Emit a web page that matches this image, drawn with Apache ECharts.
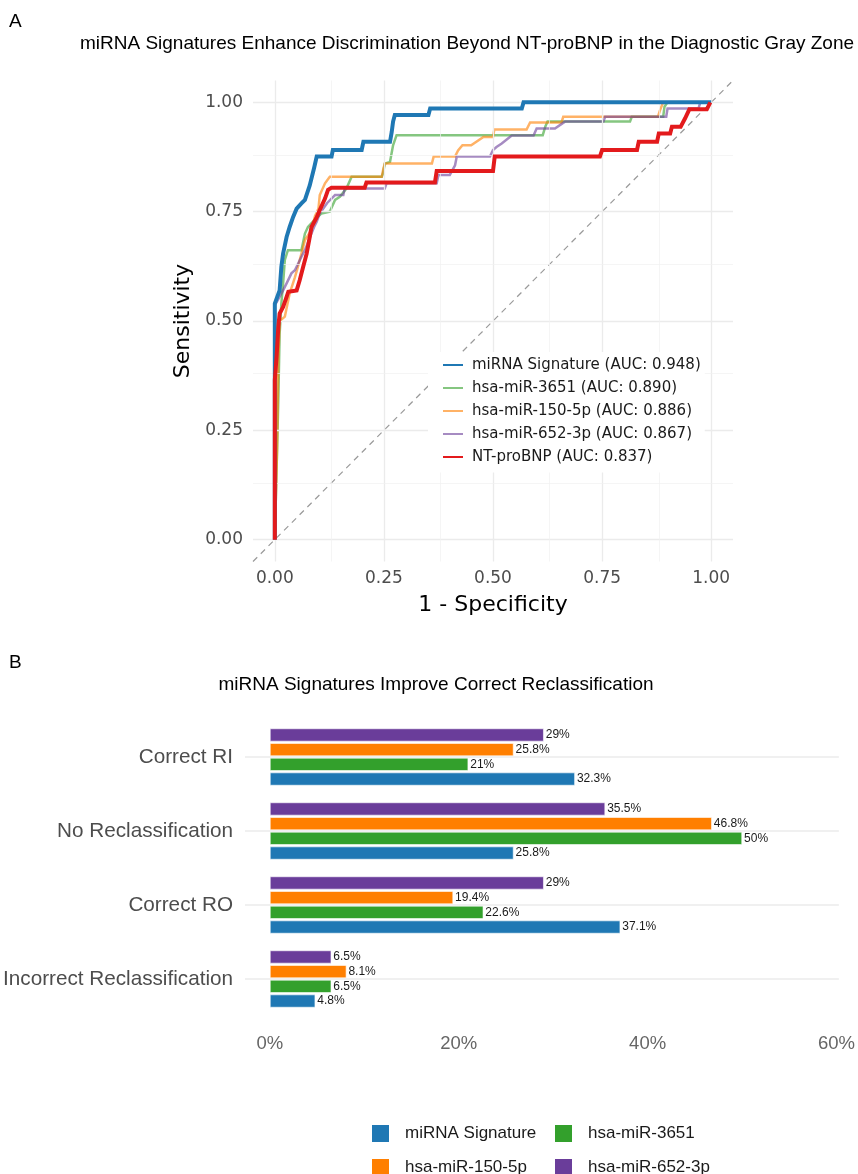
<!DOCTYPE html>
<html>
<head>
<meta charset="utf-8">
<script src="https://cdn.jsdelivr.net/npm/echarts@6/dist/echarts.min.js"></script>
<style>
html,body{margin:0;padding:0;background:#fff;}
#chart{width:858px;height:1174px;}
</style>
</head>
<body>
<div id="chart"></div>
<script>
// ---------- Panel A: ROC curves ([1 - specificity, sensitivity]) ----------
const rocNames = [
  'miRNA Signature (AUC: 0.948)',
  'hsa-miR-3651 (AUC: 0.890)',
  'hsa-miR-150-5p (AUC: 0.886)',
  'hsa-miR-652-3p (AUC: 0.867)',
  'NT-proBNP (AUC: 0.837)'
];
const rocSignature = [[0,0],[0,0.54],[0.004,0.54],[0.011,0.57],[0.015,0.624],[0.019,0.654],[0.027,0.692],[0.034,0.715],[0.042,0.738],[0.05,0.757],[0.061,0.769],[0.069,0.777],[0.08,0.81],[0.09,0.85],[0.096,0.876],[0.13,0.876],[0.133,0.891],[0.199,0.891],[0.203,0.91],[0.264,0.91],[0.268,0.933],[0.271,0.956],[0.275,0.971],[0.352,0.971],[0.356,0.986],[0.566,0.986],[0.57,1.0],[1,1]];
const roc3651 = [[0,0],[0.008,0.32],[0.011,0.47],[0.015,0.54],[0.019,0.586],[0.023,0.64],[0.03,0.662],[0.061,0.662],[0.069,0.70],[0.076,0.715],[0.09,0.73],[0.107,0.746],[0.126,0.75],[0.138,0.777],[0.149,0.784],[0.164,0.803],[0.176,0.83],[0.245,0.83],[0.248,0.838],[0.252,0.86],[0.264,0.864],[0.271,0.902],[0.279,0.925],[0.614,0.925],[0.62,0.945],[0.625,0.956],[0.814,0.956],[0.818,0.967],[0.89,0.967],[0.893,0.99],[0.9,1],[1,1]];
const roc150 = [[0,0],[0.005,0.2],[0.008,0.41],[0.011,0.5],[0.023,0.51],[0.034,0.563],[0.046,0.60],[0.053,0.624],[0.061,0.654],[0.069,0.685],[0.084,0.708],[0.092,0.74],[0.1,0.757],[0.103,0.788],[0.115,0.815],[0.126,0.83],[0.245,0.83],[0.249,0.849],[0.252,0.86],[0.36,0.86],[0.364,0.876],[0.413,0.876],[0.42,0.89],[0.43,0.902],[0.45,0.902],[0.478,0.921],[0.5,0.921],[0.503,0.938],[0.577,0.938],[0.585,0.954],[0.657,0.954],[0.661,0.967],[0.878,0.967],[0.882,0.98],[0.89,1],[1,1]];
const roc652 = [[0,0],[0,0.536],[0.008,0.55],[0.019,0.57],[0.027,0.586],[0.038,0.609],[0.046,0.616],[0.061,0.647],[0.069,0.662],[0.08,0.69],[0.09,0.715],[0.096,0.727],[0.103,0.746],[0.12,0.77],[0.138,0.788],[0.157,0.788],[0.16,0.803],[0.252,0.803],[0.256,0.815],[0.371,0.815],[0.375,0.834],[0.401,0.834],[0.413,0.856],[0.417,0.876],[0.493,0.876],[0.5,0.891],[0.508,0.898],[0.52,0.906],[0.543,0.924],[0.593,0.924],[0.6,0.94],[0.642,0.94],[0.665,0.956],[0.753,0.956],[0.757,0.967],[0.897,0.967],[0.9,0.986],[0.971,0.986],[0.975,1],[1,1]];
const rocNTproBNP = [[0,0],[0,0.365],[0.004,0.418],[0.008,0.486],[0.011,0.517],[0.019,0.532],[0.027,0.555],[0.031,0.567],[0.05,0.57],[0.057,0.593],[0.065,0.624],[0.073,0.654],[0.08,0.692],[0.084,0.715],[0.095,0.735],[0.103,0.754],[0.115,0.78],[0.122,0.80],[0.13,0.805],[0.206,0.805],[0.21,0.817],[0.367,0.817],[0.371,0.843],[0.5,0.843],[0.504,0.876],[0.745,0.876],[0.75,0.891],[0.83,0.891],[0.834,0.91],[0.876,0.91],[0.88,0.929],[0.906,0.929],[0.91,0.944],[0.93,0.944],[0.94,0.963],[0.95,0.984],[0.99,0.984],[0.998,1.0]];
const rocTicks = [0, 0.25, 0.5, 0.75, 1];
const rocMinorTicks = [0.125, 0.375, 0.625, 0.875];

// ---------- Panel B: reclassification ----------
const reclassCategories = ['Correct RI', 'No Reclassification', 'Correct RO', 'Incorrect Reclassification'];
const barNames = ['miRNA Signature', 'hsa-miR-3651', 'hsa-miR-150-5p', 'hsa-miR-652-3p'];
const barSignature = [32.3, 25.8, 37.1, 4.8];
const bar3651 = [21, 50, 22.6, 6.5];
const bar150 = [25.8, 46.8, 19.4, 8.1];
const bar652 = [29, 35.5, 29, 6.5];
const pctTicks = [0, 20, 40, 60];

const C_BLUE = '#1F78B4', C_GREEN = '#33A02C', C_ORANGE = '#FF7F00', C_PURPLE = '#6A3D9A', C_RED = '#E31A1C';
const SANS = 'Liberation Sans, Arial, sans-serif';
const DEJA = 'DejaVu Sans, sans-serif';

const chart = echarts.init(document.getElementById('chart'), null, {renderer: 'canvas'});

function rocSeries(name, data, color, width, opacity, z) {
  return {
    type: 'line', name, data, xAxisIndex: 0, yAxisIndex: 0,
    symbol: 'none', smooth: false, z,
    lineStyle: {color, width, opacity, cap: 'butt', join: 'miter'},
    itemStyle: {color, opacity},
    emphasis: {disabled: true}, animation: false
  };
}
function barSeries(name, data, color) {
  return {
    type: 'bar', name, data, xAxisIndex: 1, yAxisIndex: 1,
    barWidth: 13, barGap: '13%', z: 3,
    itemStyle: {color, borderColor: '#ffffff', borderWidth: 0.6},
    label: {show: true, position: 'right', distance: 2, formatter: p => p.value + '%',
            fontFamily: SANS, fontSize: 12, color: '#1a1a1a'},
    emphasis: {disabled: true}, animation: false
  };
}

const gridLineData = [];
rocTicks.forEach(v => {
  gridLineData.push({xAxis: v, lineStyle: {width: 1.3, color: '#ebebeb', type: 'solid'}});
  gridLineData.push({yAxis: v, lineStyle: {width: 1.3, color: '#ebebeb', type: 'solid'}});
});
rocMinorTicks.forEach(v => {
  gridLineData.push({xAxis: v, lineStyle: {width: 0.7, color: '#f0f0f0', type: 'solid'}});
  gridLineData.push({yAxis: v, lineStyle: {width: 0.7, color: '#f0f0f0', type: 'solid'}});
});

const option = {
  backgroundColor: '#ffffff',
  animation: false,
  graphic: [
    {type: 'text', left: 9, top: 12, style: {text: 'A', font: '19px ' + SANS, fill: '#000'}},
    {type: 'text', x: 467, y: 44, style: {text: 'miRNA Signatures Enhance Discrimination Beyond NT-proBNP in the Diagnostic Gray Zone', font: '19px ' + SANS, fill: '#000', textAlign: 'center', textVerticalAlign: 'middle'}},
    {type: 'text', left: 9, top: 653, style: {text: 'B', font: '19px ' + SANS, fill: '#000'}},
    {type: 'text', x: 436, y: 685, style: {text: 'miRNA Signatures Improve Correct Reclassification', font: '19px ' + SANS, fill: '#000', textAlign: 'center', textVerticalAlign: 'middle'}}
  ],
  grid: [
    {left: 253, top: 80.5, width: 480, height: 481, containLabel: false},
    {left: 245, top: 720, width: 595, height: 296, containLabel: false}
  ],
  xAxis: [
    {type: 'value', gridIndex: 0, min: -0.05, max: 1.05,
     axisLine: {show: false}, axisTick: {show: false}, splitLine: {show: false},
     axisLabel: {customValues: rocTicks, formatter: v => v.toFixed(2), fontFamily: DEJA, fontSize: 17, color: '#4d4d4d', margin: 9},
     name: '1 - Specificity', nameLocation: 'middle', nameGap: 33,
     nameTextStyle: {fontFamily: DEJA, fontSize: 22, color: '#000'}},
    {type: 'value', gridIndex: 1, min: -2.64, max: 60.25,
     axisLine: {show: false}, axisTick: {show: false}, splitLine: {show: false},
     axisLabel: {customValues: pctTicks, formatter: v => v + '%', fontFamily: SANS, fontSize: 18.5, color: '#666666', margin: 18}}
  ],
  yAxis: [
    {type: 'value', gridIndex: 0, min: -0.05, max: 1.05,
     axisLine: {show: false}, axisTick: {show: false}, splitLine: {show: false},
     axisLabel: {customValues: rocTicks, formatter: v => v.toFixed(2), fontFamily: DEJA, fontSize: 17, color: '#4d4d4d', margin: 10},
     name: 'Sensitivity', nameLocation: 'middle', nameGap: 50, nameRotate: 90,
     nameTextStyle: {fontFamily: DEJA, fontSize: 22, color: '#000'}},
    {type: 'category', gridIndex: 1, data: reclassCategories, inverse: true,
     axisLine: {show: false}, axisTick: {show: false}, splitLine: {show: false},
     axisLabel: {fontFamily: SANS, fontSize: 20.7, color: '#4d4d4d', margin: 12}}
  ],
  legend: [
    {orient: 'vertical', left: 428, top: 352, width: 300, height: 150, padding: [5.5, 4, 8, 15],
     backgroundColor: '#ffffff', z: 20, zlevel: 0,
     itemWidth: 20, itemHeight: 2, itemGap: 8, icon: 'rect',
     data: rocNames, selectedMode: false,
     textStyle: {fontFamily: DEJA, fontSize: 15, color: '#1a1a1a', padding: [0, 0, 0, 4]}},
    {orient: 'vertical', left: 370, top: 1123, width: 170, height: 60, padding: 0, itemWidth: 19, itemHeight: 19, itemGap: 13,
     data: [barNames[0], barNames[2]], icon: 'rect', selectedMode: false,
     textStyle: {fontFamily: SANS, fontSize: 17, color: '#1a1a1a', padding: [0, 0, 0, 10]}},
    {orient: 'vertical', left: 553, top: 1123, width: 170, height: 60, padding: 0, itemWidth: 19, itemHeight: 19, itemGap: 13,
     data: [barNames[1], barNames[3]], icon: 'rect', selectedMode: false,
     textStyle: {fontFamily: SANS, fontSize: 17, color: '#1a1a1a', padding: [0, 0, 0, 10]}}
  ],
  series: [
    {type: 'line', name: 'gridA', xAxisIndex: 0, yAxisIndex: 0, data: [], z: 0, silent: true,
     markLine: {silent: true, symbol: ['none', 'none'], label: {show: false}, animation: false, data: gridLineData}},
    {type: 'line', name: 'diag', xAxisIndex: 0, yAxisIndex: 0, data: [[-0.05, -0.05], [1.05, 1.05]], symbol: 'none', z: 1,
     lineStyle: {color: '#9a9a9a', width: 1.2, type: [6, 5]}, emphasis: {disabled: true}, silent: true},
    rocSeries(rocNames[1], roc3651, C_GREEN, 2.5, 0.6, 2),
    rocSeries(rocNames[2], roc150, C_ORANGE, 2.5, 0.6, 3),
    rocSeries(rocNames[3], roc652, C_PURPLE, 2.5, 0.6, 4),
    rocSeries(rocNames[0], rocSignature, C_BLUE, 4, 1, 5),
    rocSeries(rocNames[4], rocNTproBNP, C_RED, 4, 1, 6),
    {type: 'line', name: 'gridB', xAxisIndex: 1, yAxisIndex: 1, data: [], z: 0, silent: true,
     markLine: {silent: true, symbol: ['none', 'none'], label: {show: false}, animation: false,
       lineStyle: {color: '#ebebeb', width: 1.5, type: 'solid'},
       data: reclassCategories.map(c => ({yAxis: c}))}},
    barSeries(barNames[3], bar652, C_PURPLE),
    barSeries(barNames[2], bar150, C_ORANGE),
    barSeries(barNames[1], bar3651, C_GREEN),
    barSeries(barNames[0], barSignature, C_BLUE)
  ]
};
chart.setOption(option);
</script>
</body>
</html>
